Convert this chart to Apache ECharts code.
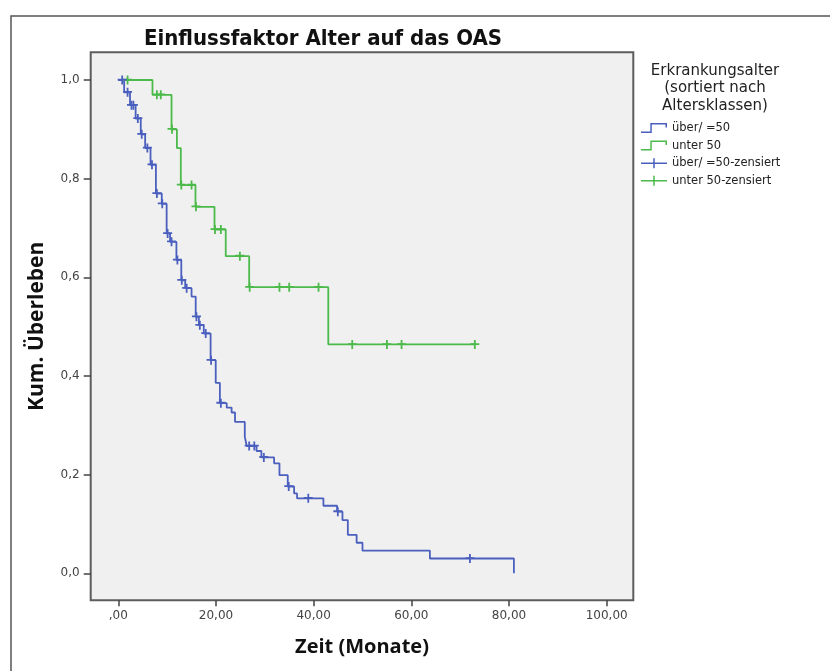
<!DOCTYPE html>
<html><head><meta charset="utf-8">
<script src="https://cdn.jsdelivr.net/npm/echarts@6/dist/echarts.min.js"></script>
<style>html,body{margin:0;padding:0;background:#fff}#c{width:830px;height:671px}</style>
</head><body><div id="c"></div>
<script>
const seriesNames = ['über/ =50', 'unter 50', 'über/ =50-zensiert', 'unter 50-zensiert'];
const xTicks = [0, 20, 40, 60, 80, 100];
const yTicks = [0, 0.2, 0.4, 0.6, 0.8, 1.0];

// Group "über/ =50": event times (months) and survival after each event
const blueEventT = [1.2, 2.4, 3.55, 4.6, 5.5, 6.6, 7.7, 8.9, 9.9, 10.6, 11.9, 12.9, 13.7, 15.0, 15.85, 16.5, 17.5, 18.9, 19.95, 20.8, 22.2, 23.2, 23.9, 25.9, 26.3, 28.3, 29.3, 31.9, 33.0, 34.7, 36.0, 36.6, 42.0, 44.8, 45.9, 47.0, 48.8, 50.0, 63.8, 81.0];
const blueEventS = [0.975, 0.949, 0.922, 0.890, 0.862, 0.828, 0.770, 0.749, 0.689, 0.672, 0.635, 0.594, 0.578, 0.561, 0.520, 0.503, 0.486, 0.432, 0.386, 0.345, 0.336, 0.326, 0.307, 0.277, 0.258, 0.248, 0.235, 0.223, 0.199, 0.176, 0.162, 0.152, 0.137, 0.125, 0.108, 0.078, 0.062, 0.046, 0.030, 0.000];
const blueEndT = 81.0;
const blueCensorT = [0.8, 1.9, 2.7, 3.1, 4.0, 4.8, 5.95, 6.9, 7.9, 9.0, 10.1, 10.9, 12.1, 13.0, 14.0, 16.0, 16.7, 17.9, 19.0, 21.0, 26.8, 27.85, 29.8, 34.9, 38.9, 44.95, 72.0];

// Group "unter 50"
const greenEventT = [7.0, 10.9, 12.0, 12.8, 15.8, 19.7, 22.0, 26.8, 43.0];
const greenEventS = [0.970, 0.900, 0.862, 0.787, 0.743, 0.697, 0.643, 0.580, 0.464];
const greenEndT = 73.0;
const greenCensorT = [1.9, 7.9, 8.7, 11.0, 12.9, 15.0, 15.9, 19.8, 21.0, 24.9, 26.9, 33.0, 35.0, 41.0, 47.9, 55.0, 58.0, 73.0];

const BLUE = '#4a5fbe';
const GREEN = '#4cba4a';

function stepPoints(evT, evS, endT) {
  const pts = [[0, 1]];
  let prev = 1;
  for (let i = 0; i < evT.length; i++) {
    pts.push([evT[i], prev]);
    pts.push([evT[i], evS[i]]);
    prev = evS[i];
  }
  if (endT > evT[evT.length - 1]) pts.push([endT, prev]);
  return pts;
}
function levelAt(evT, evS, t) {
  let s = 1;
  for (let i = 0; i < evT.length; i++) if (evT[i] <= t) s = evS[i];
  return s;
}
const censorPts = (evT, evS, cT) => cT.map(t => [t, levelAt(evT, evS, t)]);

const crossSym = 'path://M0,3.2H9V5H0Z M3.6,0H5.4V9H3.6Z';
const stepIcon = 'path://M0,8.5H9.3V0H26V4.5H24.5V1.5H10.8V10H0Z';
const crossIcon = 'path://M0,4.25H12.25V0H13.75V4.25H26V5.75H13.75V10H12.25V5.75H0Z';

const chart = echarts.init(document.getElementById('c'), null, {renderer: 'canvas'});
const tickFont = 'DejaVu Sans';
chart.setOption({
  animation: false,
  backgroundColor: '#ffffff',
  title: {
    text: 'Einflussfaktor Alter auf das OAS',
    left: 318, top: 23, textAlign: 'center',
    textStyle: {fontFamily: "'Liberation Sans Narrow', 'DejaVu Sans Condensed', 'Open Sans'", fontWeight: 'bold', fontSize: 22, color: '#111'}
  },
  graphic: [
    {type: 'rect', shape: {x: 11, y: 16, width: 840, height: 700}, style: {fill: 'none', stroke: '#555', lineWidth: 1.5}, silent: true, z: -1},
    {type: 'text', x: 715, y: 62, style: {text: 'Erkrankungsalter\n(sortiert nach\nAltersklassen)', align: 'center', verticalAlign: 'top', fontFamily: tickFont, fontSize: 15, lineHeight: 17.5, fill: '#222'}}
  ],
  legend: {
    orient: 'vertical', left: 641, top: 122, itemWidth: 26, itemHeight: 10, itemGap: 5.6, padding: 0,
    selectedMode: false, symbolKeepAspect: true,
    itemStyle: {borderWidth: 0},
    textStyle: {fontFamily: tickFont, fontSize: 11.5, color: '#222'},
    data: [
      {name: seriesNames[0], icon: stepIcon},
      {name: seriesNames[1], icon: stepIcon},
      {name: seriesNames[2], icon: crossIcon},
      {name: seriesNames[3], icon: crossIcon}
    ]
  },
  grid: {left: 90.7, top: 52.3, width: 542.6, height: 548, show: true, backgroundColor: '#f0f0f0', borderColor: '#5c5c5c', borderWidth: 2, containLabel: false},
  xAxis: {
    type: 'value', min: -5.65, max: 105.45,
    name: 'Zeit (Monate)', nameLocation: 'middle', nameGap: 37,
    nameTextStyle: {fontFamily: 'Open Sans', fontWeight: 'bold', fontSize: 20, color: '#111'},
    axisLine: {show: false, onZero: false},
    axisTick: {show: true, customValues: xTicks, length: 6, lineStyle: {color: '#444', width: 1.5}},
    axisLabel: {customValues: xTicks, margin: 10, fontFamily: tickFont, fontSize: 12, color: '#444',
      formatter: v => v === 0 ? ',00' : v.toFixed(2).replace('.', ',')},
    splitLine: {show: false}
  },
  yAxis: {
    type: 'value', min: -0.0547, max: 1.0562,
    name: 'Kum. Überleben', nameLocation: 'middle', nameGap: 43, nameRotate: 90,
    nameTextStyle: {fontFamily: 'Open Sans', fontWeight: 'bold', fontSize: 21, color: '#111'},
    axisLine: {show: false, onZero: false},
    axisTick: {show: true, customValues: yTicks, length: 7, lineStyle: {color: '#444', width: 1.5}},
    axisLabel: {customValues: yTicks, margin: 11, fontFamily: tickFont, fontSize: 12, color: '#444',
      formatter: v => v.toFixed(1).replace('.', ',')},
    splitLine: {show: false}
  },
  series: [
    {name: seriesNames[1], type: 'line', data: stepPoints(greenEventT, greenEventS, greenEndT), showSymbol: false, symbol: 'none',
      lineStyle: {color: GREEN, width: 1.8}, itemStyle: {color: GREEN}, z: 2},
    {name: seriesNames[0], type: 'line', data: stepPoints(blueEventT, blueEventS, blueEndT), showSymbol: false, symbol: 'none',
      lineStyle: {color: BLUE, width: 1.8}, itemStyle: {color: BLUE}, z: 3},
    {name: seriesNames[3], type: 'scatter', data: censorPts(greenEventT, greenEventS, greenCensorT), symbol: crossSym, symbolSize: 9,
      itemStyle: {color: GREEN, opacity: 1, borderWidth: 0}, z: 4},
    {name: seriesNames[2], type: 'scatter', data: censorPts(blueEventT, blueEventS, blueCensorT), symbol: crossSym, symbolSize: 9,
      itemStyle: {color: BLUE, opacity: 1, borderWidth: 0}, z: 5}
  ]
});
</script></body></html>
